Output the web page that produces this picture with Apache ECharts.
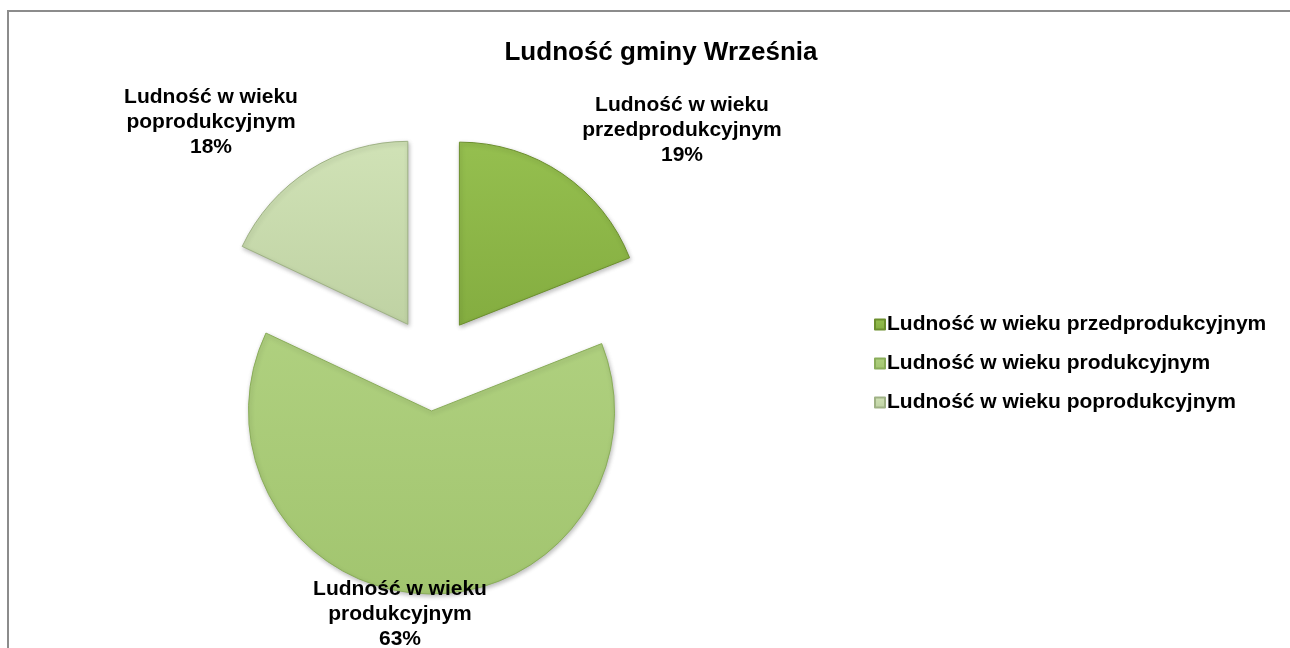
<!DOCTYPE html>
<html>
<head>
<meta charset="utf-8">
<script src="https://cdn.jsdelivr.net/npm/echarts@6/dist/echarts.min.js"></script>
<style>
  html, body { margin: 0; padding: 0; background: #fff; }
  #chart { width: 1290px; height: 648px; }
</style>
</head>
<body>
<div id="chart"></div>
<script>
var categories = ['Ludność w wieku przedprodukcyjnym', 'Ludność w wieku produkcyjnym', 'Ludność w wieku poprodukcyjnym'];
var values = [19, 63, 18];
var sliceColors = [['#95bf4f', '#84ad40'], ['#afd07f', '#a2c56f'], ['#d0e2b6', '#bfd2a3']];
var edgeColors = ['#6c8f2e', '#8aad5a', '#9fb285'];
// centre of each slice label block
var labelPos = [[682, 130], [400, 614], [211, 122]];

var chart = echarts.init(document.getElementById('chart'));

var total = values.reduce(function (a, b) { return a + b; }, 0);

var data = categories.map(function (name, i) {
  var grad = new echarts.graphic.LinearGradient(0, 0, 0, 1, [
    {offset: 0, color: sliceColors[i][0]},
    {offset: 1, color: sliceColors[i][1]}
  ]);
  return {
    name: name,
    value: values[i],
    selected: true,
    itemStyle: {color: grad, borderColor: edgeColors[i]},
    select: {itemStyle: {color: grad, borderColor: edgeColors[i]}}
  };
});

// slice labels as text, name broken after "wieku"
var labels = categories.map(function (name, i) {
  var parts = name.split('wieku ');
  return {
    type: 'text',
    x: labelPos[i][0],
    y: labelPos[i][1],
    silent: true,
    style: {
      text: parts[0] + 'wieku\n' + parts[1] + '\n' + Math.round(values[i] / total * 100) + '%',
      font: 'bold 21px "Liberation Sans"',
      lineHeight: 25,
      fill: '#000',
      textAlign: 'center',
      textVerticalAlign: 'middle'
    },
    z: 50
  };
});

var option = {
  backgroundColor: '#ffffff',
  animation: false,
  title: {
    text: 'Ludność gminy Września',
    left: 656,
    top: 35,
    textAlign: 'center',
    textStyle: {
      fontFamily: 'Liberation Sans',
      fontWeight: 'bold',
      fontSize: 26,
      color: '#000'
    }
  },
  color: ['#8db849', '#a9cb78', '#c8dbad'],
  legend: {
    orient: 'vertical',
    left: 869,
    top: 309,
    itemWidth: 10,
    itemHeight: 10,
    itemGap: 18,
    icon: 'rect',
    selectedMode: false,
    textStyle: {
      fontFamily: 'Liberation Sans',
      fontWeight: 'bold',
      fontSize: 21,
      color: '#000',
      padding: [0, 0, 0, -3]
    },
    data: categories
  },
  series: [{
    type: 'pie',
    center: [433, 364],
    radius: [0, 183],
    startAngle: 90,
    clockwise: true,
    selectedMode: 'multiple',
    selectedOffset: 47,
    emphasis: {disabled: true},
    itemStyle: {
      borderWidth: 1,
      shadowColor: 'rgba(0,0,0,0.25)',
      shadowBlur: 4,
      shadowOffsetX: 1,
      shadowOffsetY: 2
    },
    label: {show: false},
    labelLine: {show: false},
    data: data
  }],
  graphic: labels.concat([{
    type: 'rect',
    shape: {x: 8, y: 11, width: 1320, height: 680},
    style: {fill: 'none', stroke: '#8c8c8c', lineWidth: 2},
    silent: true,
    z: 100
  }])
};

chart.setOption(option);
</script>
</body>
</html>
